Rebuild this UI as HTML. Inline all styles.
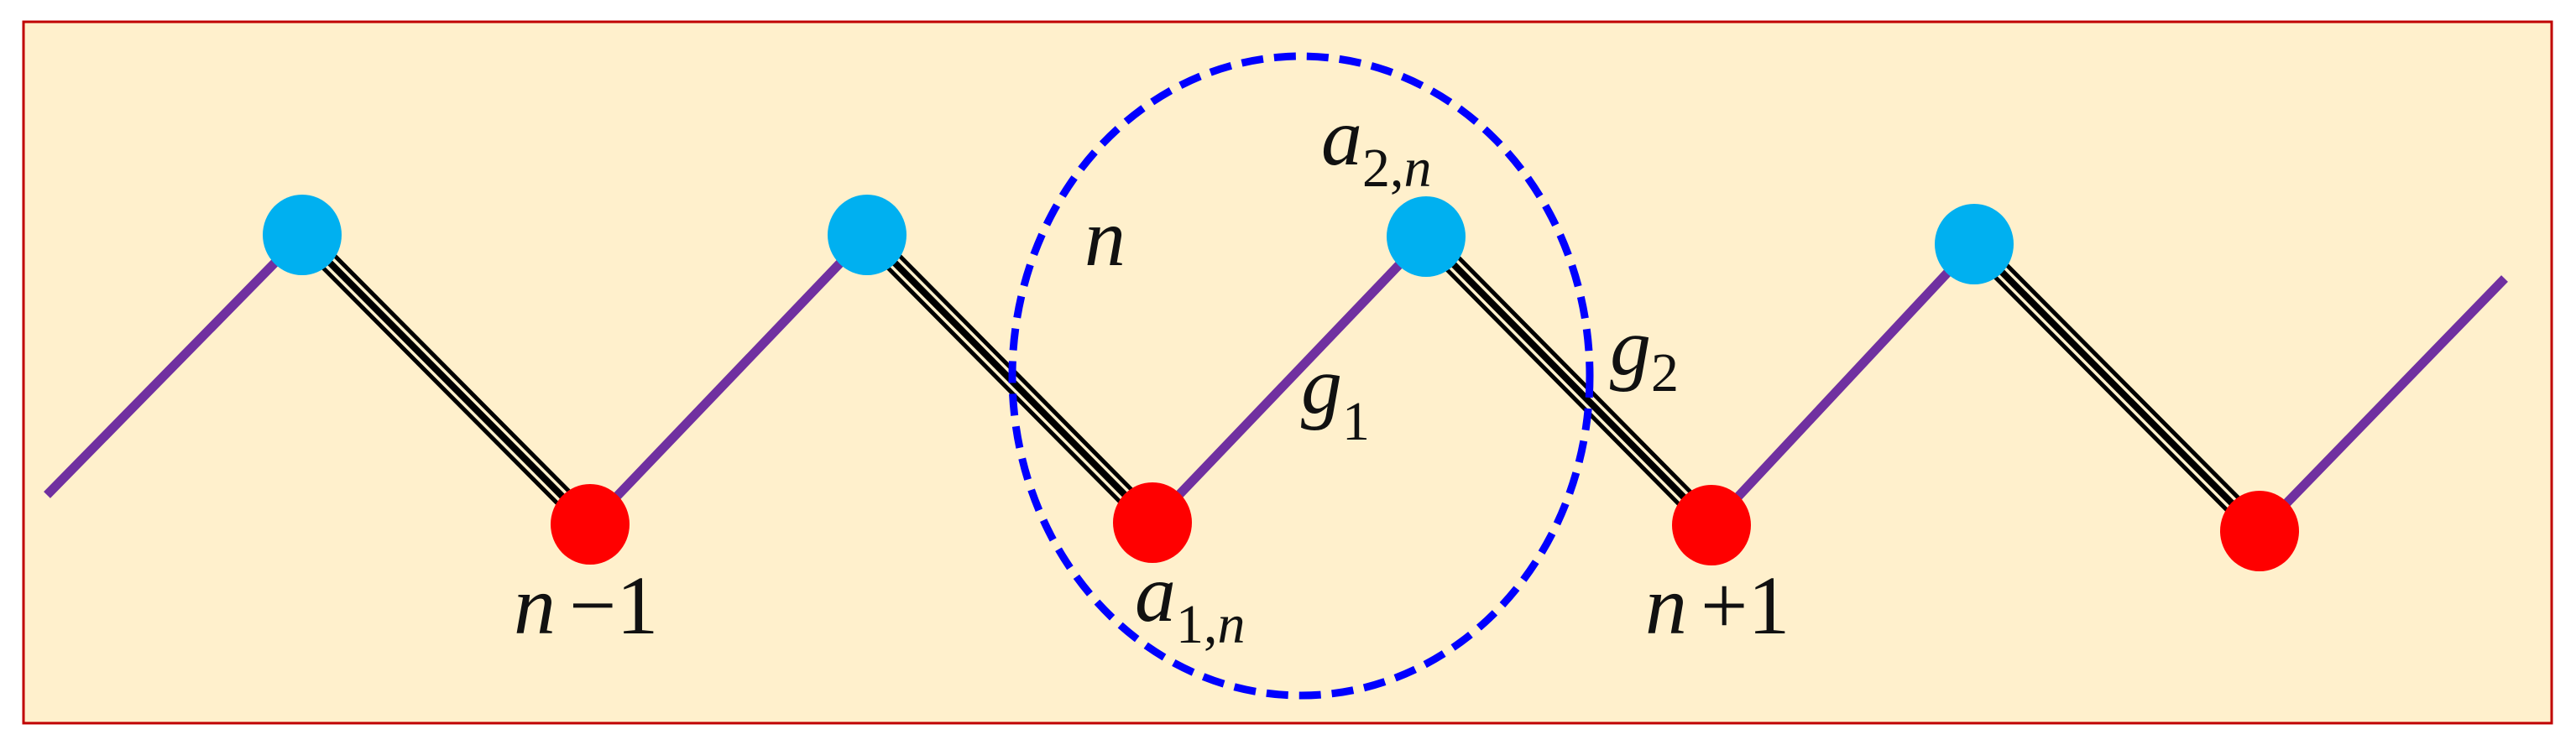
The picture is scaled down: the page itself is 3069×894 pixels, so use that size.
<!DOCTYPE html>
<html><head><meta charset="utf-8"><style>
html,body{margin:0;padding:0;background:#fff;}
svg{display:block;}
text{font-family:"Liberation Serif","Times New Roman","DejaVu Serif",serif;fill:#111;}
</style></head><body>
<svg width="3069" height="894" viewBox="0 0 3069 894" xmlns="http://www.w3.org/2000/svg">
<rect x="28" y="26" width="3012" height="836" fill="#FFF0CC" stroke="#C00000" stroke-width="3"/>
<g stroke="#7030A0" stroke-width="11" stroke-linecap="butt">
<line x1="56" y1="590" x2="360" y2="280"/>
<line x1="703" y1="625" x2="1033" y2="280"/>
<line x1="1373" y1="623" x2="1699" y2="282"/>
<line x1="2039" y1="626" x2="2352" y2="291"/>
<line x1="2692" y1="633" x2="2984" y2="332"/>
</g>
<g>
<g stroke="#000" stroke-width="25"><line x1="360" y1="280" x2="703" y2="625"/><line x1="1033" y1="280" x2="1373" y2="623"/><line x1="1699" y1="282" x2="2039" y2="626"/><line x1="2352" y1="291" x2="2692" y2="633"/></g>
<g stroke="#FFF0CC" stroke-width="15"><line x1="360" y1="280" x2="703" y2="625"/><line x1="1033" y1="280" x2="1373" y2="623"/><line x1="1699" y1="282" x2="2039" y2="626"/><line x1="2352" y1="291" x2="2692" y2="633"/></g>
<g stroke="#000" stroke-width="8"><line x1="360" y1="280" x2="703" y2="625"/><line x1="1033" y1="280" x2="1373" y2="623"/><line x1="1699" y1="282" x2="2039" y2="626"/><line x1="2352" y1="291" x2="2692" y2="633"/></g>
</g>
<g fill="#00B0F0">
<ellipse cx="360" cy="280" rx="47" ry="48"/>
<ellipse cx="1033" cy="280" rx="47" ry="48"/>
<ellipse cx="1699" cy="282" rx="47" ry="48"/>
<ellipse cx="2352" cy="291" rx="47" ry="48"/>
</g>
<g fill="#FF0000">
<ellipse cx="703" cy="625" rx="47" ry="48"/>
<ellipse cx="1373" cy="623" rx="47" ry="48"/>
<ellipse cx="2039" cy="626" rx="47" ry="48"/>
<ellipse cx="2692" cy="633" rx="47" ry="48"/>
</g>
<ellipse cx="1550" cy="448" rx="344" ry="381" fill="none" stroke="#0000FF" stroke-width="9" stroke-dasharray="26,13"/>
<text x="612" y="755" font-size="100" font-family="Liberation Serif, serif"><tspan font-style="italic">n</tspan><tspan dx="16">−1</tspan></text>
<text x="1960" y="755" font-size="100" font-family="Liberation Serif, serif"><tspan font-style="italic">n</tspan><tspan dx="16">+1</tspan></text>
<text x="1292" y="316" font-size="98" font-style="italic" font-family="Liberation Serif, serif">n</text>
<text x="1574" y="196" font-size="98" font-family="Liberation Serif, serif"><tspan font-style="italic">a</tspan><tspan font-size="66" dy="26">2,</tspan><tspan font-size="66" font-style="italic">n</tspan></text>
<text x="1352" y="740" font-size="98" font-family="Liberation Serif, serif"><tspan font-style="italic">a</tspan><tspan font-size="66" dy="26">1,</tspan><tspan font-size="66" font-style="italic">n</tspan></text>
<text x="1550" y="492" font-size="98" font-family="Liberation Serif, serif"><tspan font-style="italic">g</tspan><tspan font-size="66" dy="32">1</tspan></text>
<text x="1918" y="446" font-size="98" font-family="Liberation Serif, serif"><tspan font-style="italic">g</tspan><tspan font-size="66" dy="20">2</tspan></text>
</svg>
</body></html>
